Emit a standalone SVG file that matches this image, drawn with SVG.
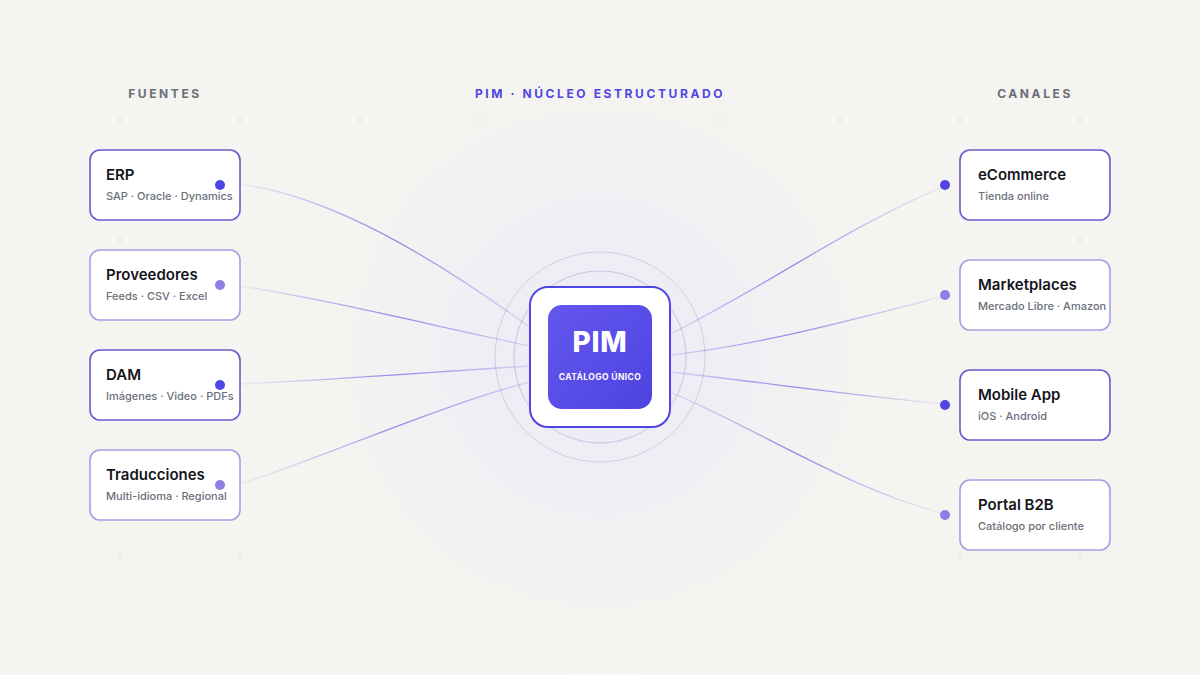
<svg xmlns="http://www.w3.org/2000/svg" width="1200" height="675" viewBox="0 0 1200 675">
<defs>
<radialGradient id="glow" cx="600" cy="357" r="330" gradientUnits="userSpaceOnUse">
<stop offset="0" stop-color="#ebe7f7" stop-opacity="1"/>
<stop offset="0.5" stop-color="#efedf5" stop-opacity="0.6"/>
<stop offset="1" stop-color="#f5f4f0" stop-opacity="0"/>
</radialGradient>
<linearGradient id="pimFill" x1="0" y1="0" x2="1" y2="1">
<stop offset="0" stop-color="#6457ee"/>
<stop offset="1" stop-color="#4c43e0"/>
</linearGradient>
<linearGradient id="lineL" x1="0" y1="0" x2="1" y2="0">
<stop offset="0" stop-color="#4f46e5" stop-opacity="0.05"/>
<stop offset="0.55" stop-color="#4f46e5" stop-opacity="0.6"/>
<stop offset="1" stop-color="#4f46e5" stop-opacity="0.15"/>
</linearGradient>
<linearGradient id="lineR" x1="1" y1="0" x2="0" y2="0">
<stop offset="0" stop-color="#4f46e5" stop-opacity="0.05"/>
<stop offset="0.55" stop-color="#4f46e5" stop-opacity="0.6"/>
<stop offset="1" stop-color="#4f46e5" stop-opacity="0.15"/>
</linearGradient>
</defs>
<style>
.hd{font-family:Inter,"Liberation Sans",sans-serif;font-size:12px;font-weight:700;letter-spacing:2.6px;text-anchor:middle}
.card{fill:#ffffff;stroke-width:1.6}
.dark{stroke:#6b5ccf}
.light{stroke:#a99ee2}
.t{font-family:Inter,"Liberation Sans",sans-serif;font-size:15px;font-weight:600;fill:#15151b}
.s{font-family:Inter,"Liberation Sans",sans-serif;font-size:11px;font-weight:500;fill:#6b6f7b}
.dd{fill:#4f46e5}
.dl{fill:#8b7fe6}
.ring{fill:none;stroke:#c9c4e6;stroke-width:1}
.conn path{fill:none;stroke-width:1.3}
.mk{stroke:#e4e2db;stroke-width:1}
</style>
<rect width="1200" height="675" fill="#f5f4f0"/>
<g id="grid" class="mk" opacity="0.7">
<path d="M116 120h8M120 116v8M236 120h8M240 116v8M356 120h8M360 116v8M476 120h8M480 116v8M716 120h8M720 116v8M836 120h8M840 116v8M956 120h8M960 116v8M1076 120h8M1080 116v8"/>
<path d="M116 240h8M120 236v8M1076 240h8M1080 236v8M116 555h8M120 551v8M236 555h8M240 551v8M956 555h8M960 551v8M1076 555h8M1080 551v8"/>
</g>
<circle cx="600" cy="357" r="330" fill="url(#glow)"/>
<text class="hd" x="165" y="98" fill="#6b6f78">FUENTES</text>
<text class="hd" x="600" y="98" fill="#4f46e5">PIM · NÚCLEO ESTRUCTURADO</text>
<text class="hd" x="1035" y="98" fill="#6b6f78">CANALES</text>
<g id="rings">
<circle class="ring" cx="600" cy="357" r="86"/>
<circle class="ring" cx="600" cy="357" r="105" opacity="0.8"/>
</g>
<g id="connectors" class="conn">
<path stroke="url(#lineL)" d="M240 184 C330 196 430 255 528 326"/>
<path stroke="url(#lineL)" d="M240 286 C330 300 430 325 530 346"/>
<path stroke="url(#lineL)" d="M240 384 C330 380 430 372 530 366"/>
<path stroke="url(#lineL)" d="M240 484 C330 455 440 405 530 382"/>
<path stroke="url(#lineR)" d="M945 186 C850 225 760 290 670 334"/>
<path stroke="url(#lineR)" d="M945 296 C850 320 760 345 670 355"/>
<path stroke="url(#lineR)" d="M945 404 C850 395 760 382 670 372"/>
<path stroke="url(#lineR)" d="M945 514 C850 490 760 430 670 392"/>
</g>
<g id="erp">
<rect class="card dark" x="90" y="150" width="150" height="70" rx="10"/>
<text class="t" x="106" y="180">ERP</text>
<text class="s" x="106" y="200">SAP · Oracle · Dynamics</text>
<circle class="dd" cx="220" cy="185" r="5"/>
</g>
<g id="proveedores">
<rect class="card light" x="90" y="250" width="150" height="70" rx="10"/>
<text class="t" x="106" y="280">Proveedores</text>
<text class="s" x="106" y="300">Feeds · CSV · Excel</text>
<circle class="dl" cx="220" cy="285" r="5"/>
</g>
<g id="dam">
<rect class="card dark" x="90" y="350" width="150" height="70" rx="10"/>
<text class="t" x="106" y="380">DAM</text>
<text class="s" x="106" y="400">Imágenes · Video · PDFs</text>
<circle class="dd" cx="220" cy="385" r="5"/>
</g>
<g id="traducciones">
<rect class="card light" x="90" y="450" width="150" height="70" rx="10"/>
<text class="t" x="106" y="480">Traducciones</text>
<text class="s" x="106" y="500">Multi-idioma · Regional</text>
<circle class="dl" cx="220" cy="485" r="5"/>
</g>
<g id="pim">
<rect x="530" y="287" width="140" height="140" rx="18" fill="#ffffff" stroke="#4f46e5" stroke-width="2"/>
<rect x="548" y="305" width="104" height="104" rx="14" fill="url(#pimFill)"/>
<text x="600" y="352" text-anchor="middle" font-family="Inter,'Liberation Sans',sans-serif" font-size="28" font-weight="800" fill="#ffffff" letter-spacing="0.8">PIM</text>
<text x="600" y="380" text-anchor="middle" font-family="Inter,'Liberation Sans',sans-serif" font-size="8.5" font-weight="700" fill="#ffffff" letter-spacing="0.4">CATÁLOGO ÚNICO</text>
</g>
<g id="ecommerce">
<rect class="card dark" x="960" y="150" width="150" height="70" rx="10"/>
<text class="t" x="978" y="180">eCommerce</text>
<text class="s" x="978" y="200">Tienda online</text>
<circle class="dd" cx="945" cy="185" r="5"/>
</g>
<g id="marketplaces">
<rect class="card light" x="960" y="260" width="150" height="70" rx="10"/>
<text class="t" x="978" y="290">Marketplaces</text>
<text class="s" x="978" y="310">Mercado Libre · Amazon</text>
<circle class="dl" cx="945" cy="295" r="5"/>
</g>
<g id="mobile">
<rect class="card dark" x="960" y="370" width="150" height="70" rx="10"/>
<text class="t" x="978" y="400">Mobile App</text>
<text class="s" x="978" y="420">iOS · Android</text>
<circle class="dd" cx="945" cy="405" r="5"/>
</g>
<g id="portal">
<rect class="card light" x="960" y="480" width="150" height="70" rx="10"/>
<text class="t" x="978" y="510">Portal B2B</text>
<text class="s" x="978" y="530">Catálogo por cliente</text>
<circle class="dl" cx="945" cy="515" r="5"/>
</g>
</svg>
